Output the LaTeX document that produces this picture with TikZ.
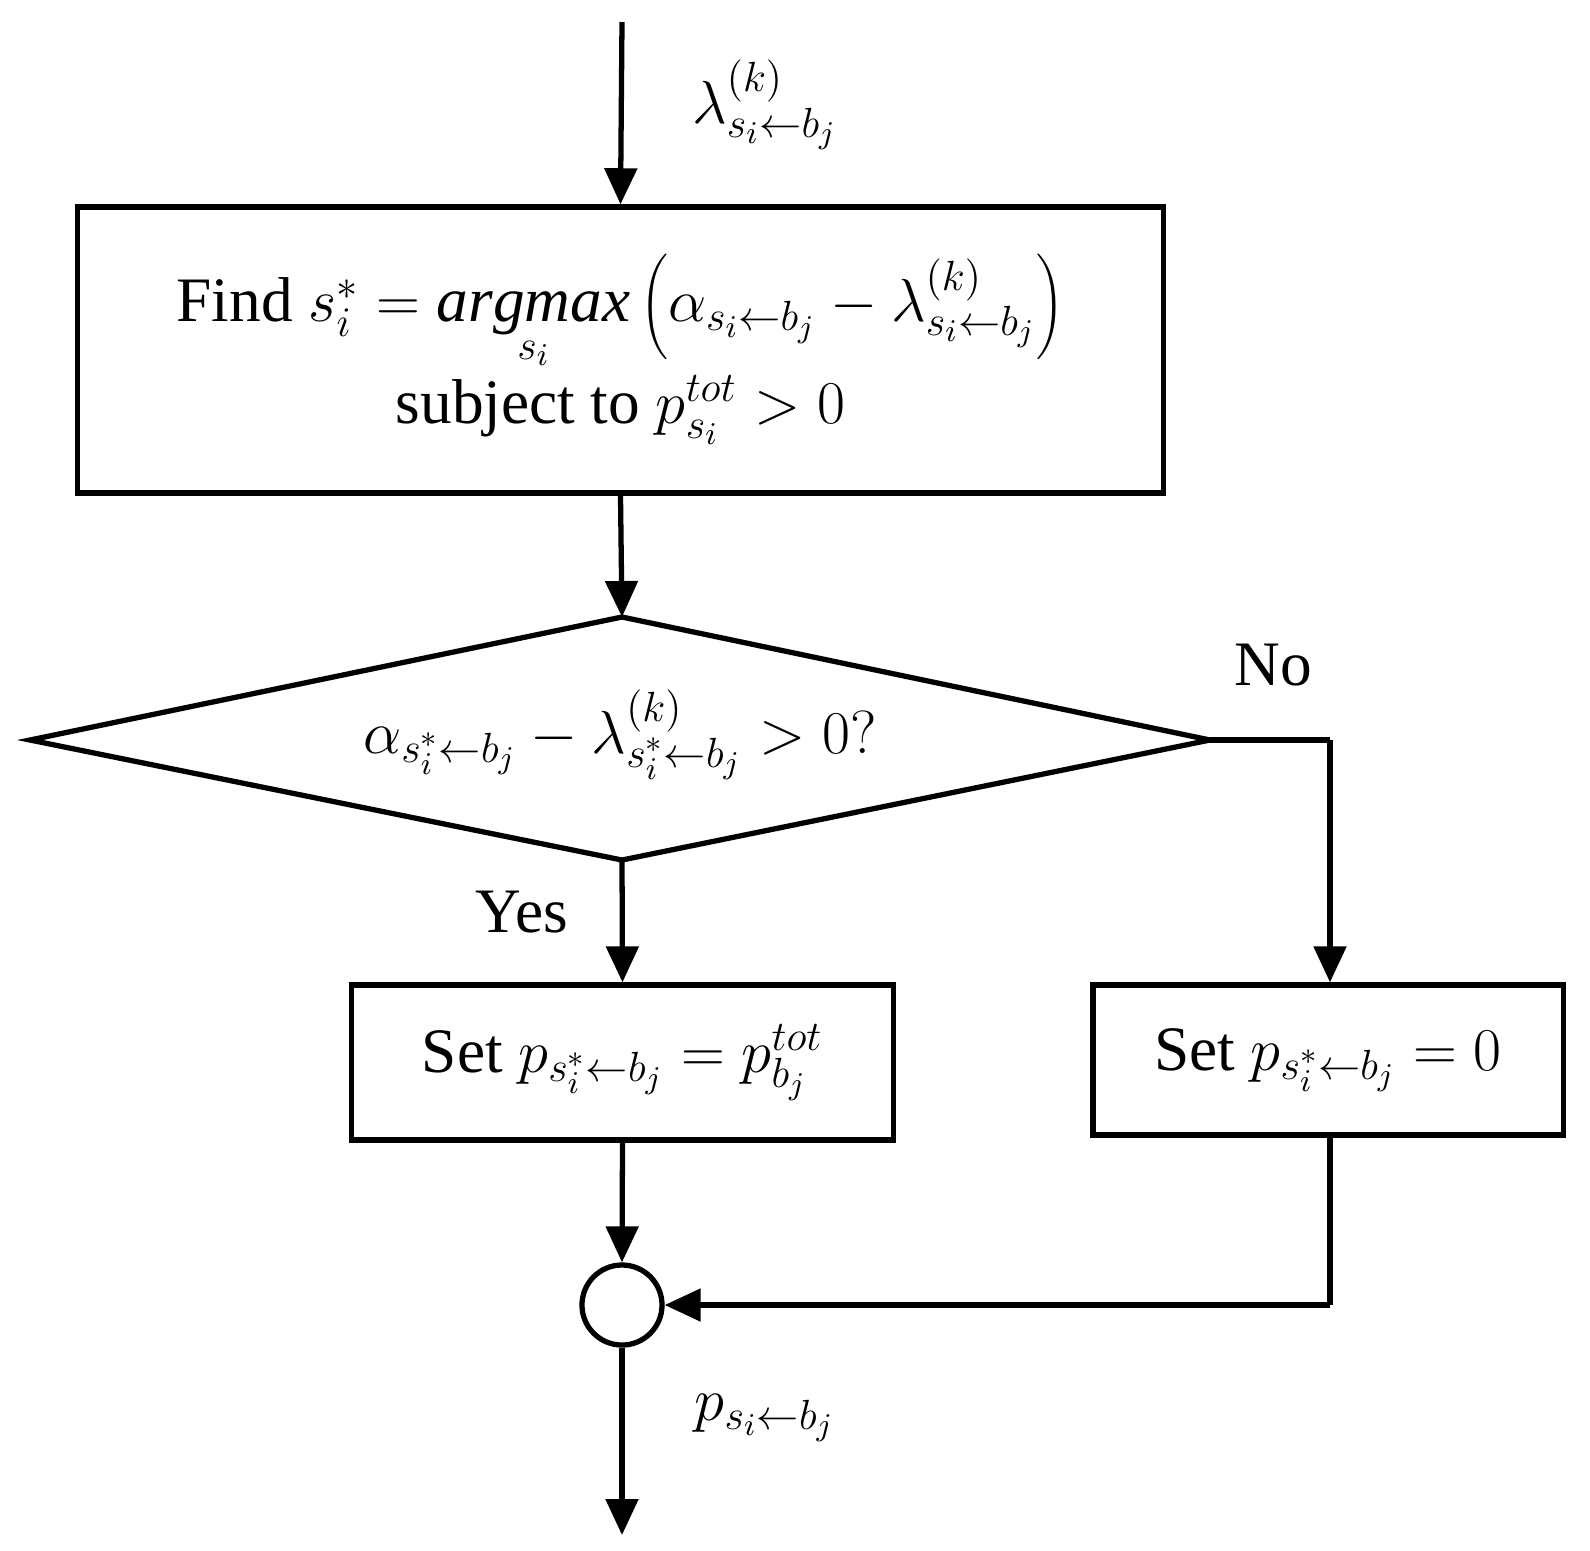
\documentclass[tikz,border=0pt]{standalone}
\usepackage{fontspec}
\setmainfont{Liberation Serif}
\usetikzlibrary{arrows.meta}
\begin{document}
\begin{tikzpicture}[x=0.01cm,y=-0.01cm,
  every node/.style={font=\fontsize{18}{22}\selectfont},
  box/.style={draw,line width=1.5pt},
  arr/.style={line width=1.5pt,-{Triangle[length=0.36cm,width=0.32cm]}},
  ln/.style={line width=1.5pt}]
\useasboundingbox (0,0) rectangle (1590,1550);
\coordinate (in) at (622,22);
\node[box,minimum width=10.85cm,minimum height=2.86cm] (b1) at (620.5,350)
 {\begin{tabular}{c}Find $s_i^{*}=\mathop{\mathit{argmax}}\limits_{s_i}\left(\alpha_{s_i\leftarrow b_j}-\lambda^{(k)}_{s_i\leftarrow b_j}\right)$\\[2pt] subject to $p^{tot}_{s_i}>0$\end{tabular}};
\coordinate (dt) at (622,617);
\coordinate (dl) at (30,740);
\coordinate (dr) at (1210,740);
\coordinate (db) at (622,860);
\draw[ln] (dt)--(dr)--(db)--(dl)--cycle;
\node (dtext) at (620,735) {$\alpha_{s_i^{*}\leftarrow b_j}-\lambda^{(k)}_{s_i^{*}\leftarrow b_j}>0?$};
\node[box,minimum width=5.41cm,minimum height=1.55cm] (b2) at (622.5,1062.5) {Set $p_{s_i^{*}\leftarrow b_j}=p^{tot}_{b_j}$};
\node[box,minimum width=4.7cm,minimum height=1.5cm] (b3) at (1328,1060) {Set $p_{s_i^{*}\leftarrow b_j}=0$};
\node[draw,circle,line width=1.5pt,minimum size=0.8cm,inner sep=0pt] (c) at (622,1305) {};
\coordinate (out) at (622,1535);
\coordinate (nc) at (1330,740);
\coordinate (rc) at (1330,1305);
\draw[arr] (in) -- (b1.north);
\draw[arr] (b1.south) -- (dt);
\draw[ln] (dr) -- (nc);
\draw[arr] (nc) -- (b3.north-|nc);
\draw[arr] (db) -- (b2.north);
\draw[arr] (b2.south) -- (c.north);
\draw[ln] (b3.south-|rc) -- (rc);
\draw[arr] (rc) -- (c.east);
\draw[arr] (c.south) -- (out);
\node (lam) at (765,105) {$\lambda^{(k)}_{s_i\leftarrow b_j}$};
\node (pout) at (765,1418) {$p_{s_i\leftarrow b_j}$};
\node (no) at (1273,665) {No};
\node (yes) at (522,912) {Yes};
\end{tikzpicture}
\end{document}
